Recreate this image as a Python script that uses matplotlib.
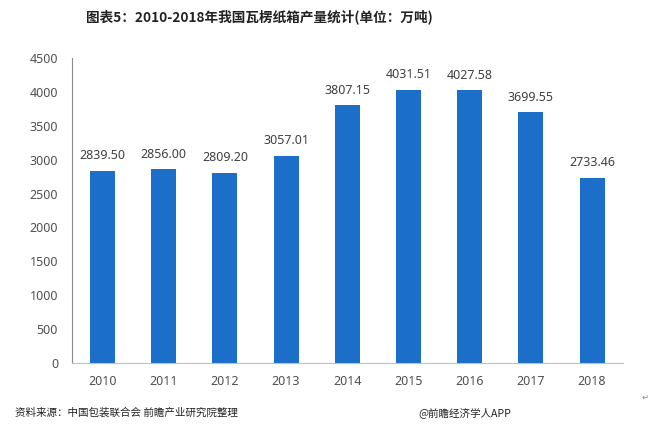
import matplotlib
matplotlib.use("Agg")
import matplotlib.pyplot as plt

plt.rcParams['font.family'] = ['Noto Sans CJK SC', 'DejaVu Sans']

years = ["2010", "2011", "2012", "2013", "2014", "2015", "2016", "2017", "2018"]
values = [2839.50, 2856.00, 2809.20, 3057.01, 3807.15, 4031.51, 4027.58, 3699.55, 2733.46]
yticks = [0, 500, 1000, 1500, 2000, 2500, 3000, 3500, 4000, 4500]

fig = plt.figure(figsize=(6.66, 4.30), dpi=100)
ax = fig.add_axes([0.108, 0.156, 0.827, 0.709])

x = list(range(len(years)))
ax.bar(x, values, width=0.41, color="#1b6fc8")
for xi, v in zip(x, values):
    ax.annotate(f"{v:.2f}", (xi, v), xytext=(0, 6), textcoords="offset points",
                ha="center", va="bottom", fontsize=9, color="#404040", family="Noto Sans")

ax.set_xlim(-0.5, len(years) - 0.5)
ax.set_ylim(0, 4500)
ax.set_xticks(x)
ax.set_xticklabels(years)
ax.set_yticks(yticks)
ax.tick_params(axis="both", length=0, labelsize=9, colors="#505050")
ax.tick_params(axis="x", pad=9)
ax.tick_params(axis="y", pad=10)
for lab in ax.get_xticklabels() + ax.get_yticklabels():
    lab.set_family("Noto Sans")
for s in ["top", "right"]:
    ax.spines[s].set_visible(False)
ax.spines["left"].set_color("#8c8c8c")
ax.spines["bottom"].set_color("#c0c0c0")

fig.text(0.39, 0.962, "图表5：2010-2018年我国瓦楞纸箱产量统计(单位：万吨)", ha="center", va="center",
         fontsize=9.8, fontweight="bold", color="#222222")
fig.text(0.022, 0.040, "资料来源：中国包装联合会 前瞻产业研究院整理", ha="left", va="center",
         fontsize=7.6, color="#222222")
fig.text(0.767, 0.040, "@前瞻经济学人APP", ha="right", va="center", fontsize=7.6, color="#222222")
fig.text(0.968, 0.077, "↵", ha="center", va="center", fontsize=6, color="#888888", family="DejaVu Sans")

fig.savefig("out.png", dpi=100, facecolor="white")
